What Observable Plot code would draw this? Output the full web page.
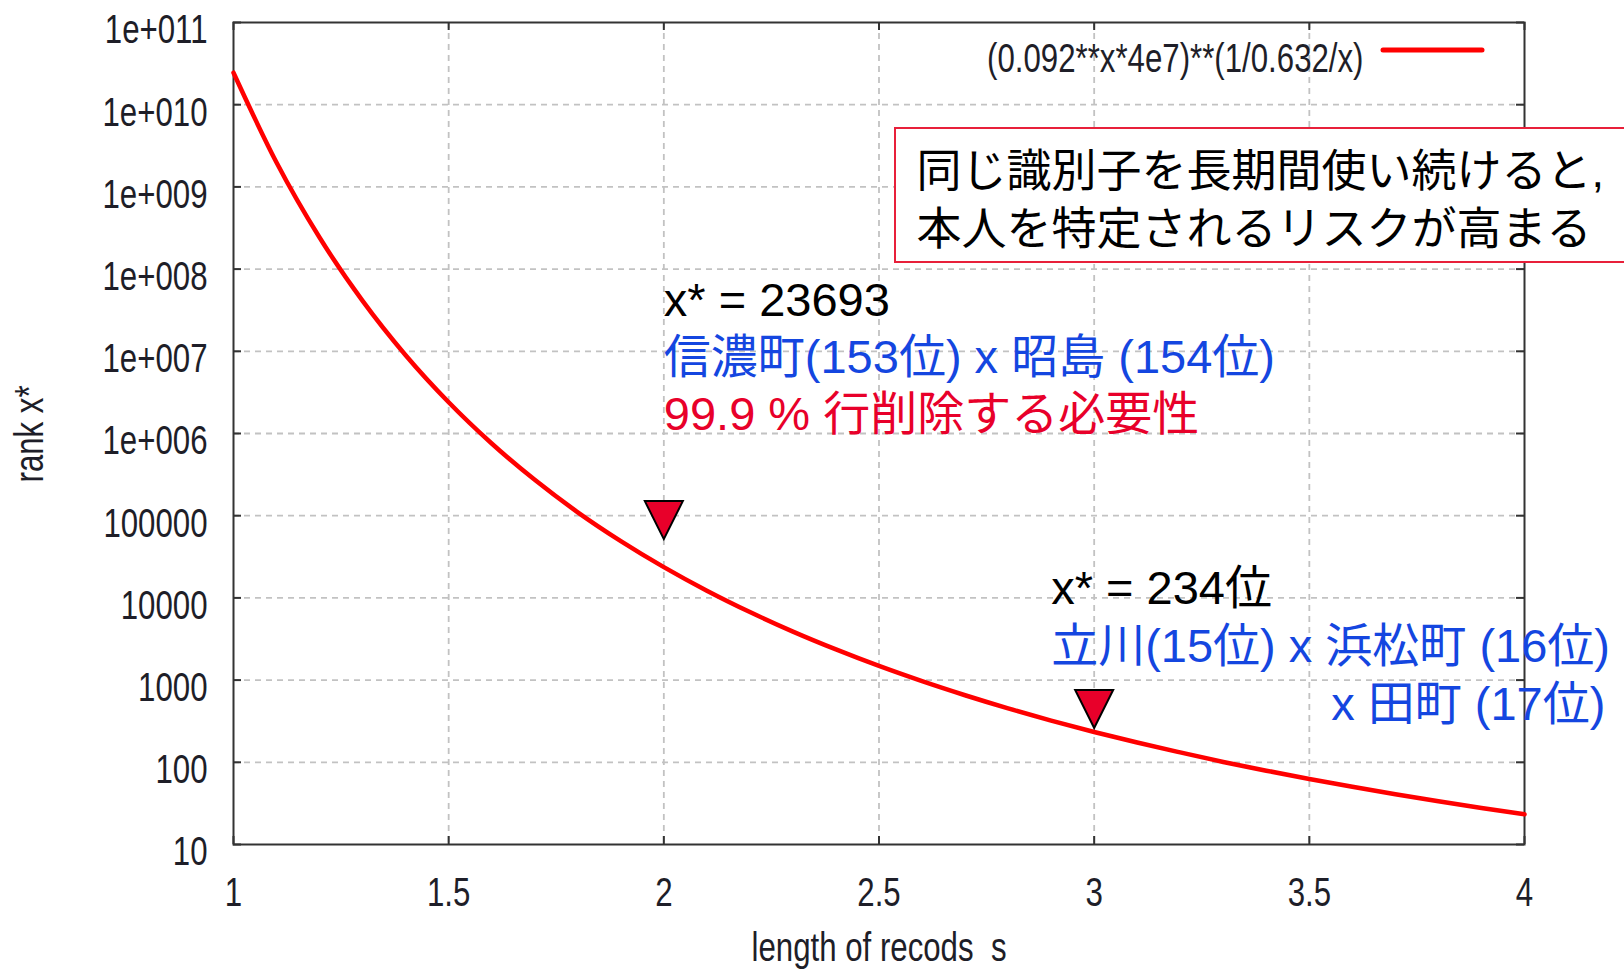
<!DOCTYPE html>
<html>
<head>
<meta charset="utf-8">
<script src="https://cdn.jsdelivr.net/npm/d3@7"></script>
<script src="https://cdn.jsdelivr.net/npm/@observablehq/plot@0.6"></script>
<style>
  html, body { margin: 0; padding: 0; background: #fff; }
  #chart { width: 1624px; height: 970px; overflow: hidden; }
</style>
</head>
<body>
<div id="chart"></div>
<script>
// ---- data ----
const sValues = [1.0, 1.1, 1.2, 1.3, 1.4, 1.5, 1.6, 1.7, 1.8, 1.9, 2.0, 2.1, 2.2, 2.3, 2.4, 2.5,
                 2.6, 2.7, 2.8, 2.9, 3.0, 3.1, 3.2, 3.3, 3.4, 3.5, 3.6, 3.7, 3.8, 3.9, 4.0];
const rankValues = [2.45e10, 1.98e9, 2.42e8, 4.10e7, 8.96e6, 2.40e6, 7.56e5, 2.73e5, 1.10e5, 4.91e4,
                    23693, 12250, 6730, 3890, 2360, 1485, 970, 654, 453, 322,
                    234, 174, 132, 101, 79.1, 62.7, 50.3, 40.9, 33.6, 27.8, 23.3];
const xTickValues = [1, 1.5, 2, 2.5, 3, 3.5, 4];
const xTickLabels = ["1", "1.5", "2", "2.5", "3", "3.5", "4"];
const yTickValues = [1e1, 1e2, 1e3, 1e4, 1e5, 1e6, 1e7, 1e8, 1e9, 1e10, 1e11];
const yTickLabels = ["10", "100", "1000", "10000", "100000", "1e+006", "1e+007", "1e+008", "1e+009", "1e+010", "1e+011"];
const markerS = [2, 3];
const markerRank = [23693, 234];
const legendLabel = "(0.092**x*4e7)**(1/0.632/x)";
const xTitle = "length of recods\u00a0 s";
const yTitle = "rank x*";
const note1 = ["x* = 23693", "信濃町(153位) x 昭島 (154位)", "99.9 % 行削除する必要性"];
const note2 = ["x* = 234位", "立川(15位) x 浜松町 (16位)", "x 田町 (17位)"];
const calloutText = ["同じ識別子を長期間使い続けると,", "本人を特定されるリスクが高まる"];

// ---- derived tables ----
const curve = sValues.map((s, i) => ({s, rank: rankValues[i]}));
const markers = markerS.map((s, i) => ({s, rank: markerRank[i]}));

// ---- layout / style ----
const W = 1624, H = 970;
const mL = 233, mR = 100, mT = 22, mB = 126;
const plotW = W - mL - mR, plotH = H - mT - mB;
const gnuFont = '"Liberation Sans", Arial, sans-serif';
const jaFont = '"Liberation Sans", "Noto Sans CJK JP", sans-serif';
const RED = "#ff0000", CRIMSON = "#e8002a", BLUE = "#1446e0", AXIS = "#333", TXT = "#1e1e28";
const gridStyle = {stroke: "#c2c2c2", strokeOpacity: 1, strokeWidth: 1.8, strokeDasharray: "6,5"};

const downTriangle = {
  draw(ctx) { ctx.moveTo(-19, -38); ctx.lineTo(19, -38); ctx.lineTo(0, 0); ctx.closePath(); }
};

const calloutBox = (index, scales, values, dims) => {
  const r = d3.create("svg:rect")
    .attr("x", dims.marginLeft + 662).attr("y", dims.marginTop + 106)
    .attr("width", 800).attr("height", 134)
    .attr("fill", "#fff").attr("stroke", "#e8203a").attr("stroke-width", 2);
  return r.node();
};
const legendSample = (index, scales, values, dims) => {
  const x0 = dims.width - dims.marginRight;
  const l = d3.create("svg:line")
    .attr("x1", x0 - 141).attr("x2", x0 - 42)
    .attr("y1", dims.marginTop + 28).attr("y2", dims.marginTop + 28)
    .attr("stroke", RED).attr("stroke-width", 5).attr("stroke-linecap", "round");
  return l.node();
};

const noteMarks = [];
const colors = ["#000", BLUE, CRIMSON];
note1.forEach((t, i) => {
  noteMarks.push(Plot.text([markers[0]], {
    x: "s", frameAnchor: "top", dy: [278, 335, 392][i], text: () => t,
    textAnchor: "start", lineAnchor: "middle", fill: colors[i], fontSize: 47, fontFamily: jaFont
  }));
});
note2.forEach((t, i) => {
  noteMarks.push(Plot.text([markers[1]], {
    x: "s", frameAnchor: "top", dx: [-43, -43, 237][i], dy: [566, 624, 682][i], text: () => t,
    textAnchor: "start", lineAnchor: "middle", fill: i === 0 ? "#000" : BLUE, fontSize: 47, fontFamily: jaFont
  }));
});

const chart = Plot.plot({
  width: W, height: H,
  marginLeft: mL, marginRight: mR, marginTop: mT, marginBottom: mB,
  style: {fontFamily: gnuFont, fontSize: "40px", color: TXT, background: "#fff", overflow: "visible"},
  x: {type: "linear", domain: [1, 4]},
  y: {type: "log", domain: [10, 1e11]},
  marks: [
    Plot.gridX(xTickValues.slice(1, -1), gridStyle),
    Plot.gridY(yTickValues.slice(1, -1), gridStyle),
    Plot.tickY(yTickValues, {y: d => d, stroke: AXIS, strokeWidth: 2, insetRight: plotW - 8}),
    Plot.tickY(yTickValues, {y: d => d, stroke: AXIS, strokeWidth: 2, insetLeft: plotW - 8}),
    Plot.tickX(xTickValues, {x: d => d, stroke: AXIS, strokeWidth: 2, insetTop: plotH - 8}),
    Plot.tickX(xTickValues, {x: d => d, stroke: AXIS, strokeWidth: 2, insetBottom: plotH - 8}),
    Plot.frame({stroke: AXIS, strokeWidth: 2}),
    Plot.axisY({ticks: yTickValues, tickSize: 0, tickPadding: 26, dy: 8, label: null,
      tickFormat: d => yTickLabels[yTickValues.indexOf(d)], fill: TXT}),
    Plot.axisX({ticks: xTickValues, tickSize: 0, tickPadding: 33, label: null,
      tickFormat: d => xTickLabels[xTickValues.indexOf(d)], fill: TXT}),
    Plot.text([xTitle], {frameAnchor: "bottom", lineAnchor: "middle", dy: 104, fill: TXT}),
    Plot.text([yTitle], {frameAnchor: "left", lineAnchor: "middle", dx: -203, dy: 49, rotate: -90, fill: TXT}),
    Plot.text([legendLabel], {frameAnchor: "top-right", lineAnchor: "middle", dx: -161, dy: 37, textAnchor: "end", fill: TXT}),
    legendSample,
    Plot.line(curve, {x: "s", y: "rank", stroke: RED, strokeWidth: 4.5, curve: "monotone-x"}),
    Plot.dot([markers[0]], {x: "s", y: "rank", symbol: downTriangle, fill: CRIMSON, stroke: "#000", strokeWidth: 2, dy: -28}),
    Plot.dot([markers[1]], {x: "s", y: "rank", symbol: downTriangle, fill: CRIMSON, stroke: "#000", strokeWidth: 2, dy: -4}),
    calloutBox,
    Plot.text([calloutText.join("\n")], {frameAnchor: "top-left", dx: 683, dy: 175, textAnchor: "start",
      lineAnchor: "middle", lineHeight: 58 / 45, fontSize: 45, fill: "#000", fontFamily: jaFont}),
    ...noteMarks
  ]
});
document.getElementById("chart").appendChild(chart);

// gnuplot-style condensed text: compress the Latin-only labels horizontally
chart.querySelectorAll("text").forEach(t => {
  if (getComputedStyle(t).fontFamily.includes("Noto Sans CJK")) return;
  const len = t.getComputedTextLength();
  if (len > 0) {
    t.setAttribute("textLength", (len * 0.78).toFixed(1));
    t.setAttribute("lengthAdjust", "spacingAndGlyphs");
  }
});
</script>
</body>
</html>
